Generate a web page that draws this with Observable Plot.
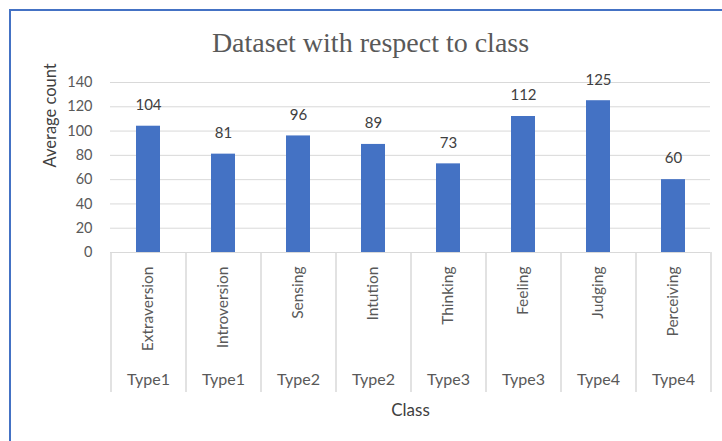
<!DOCTYPE html>
<html>
<head>
<meta charset="utf-8">
<script src="https://cdn.jsdelivr.net/npm/d3@7"></script>
<script src="https://cdn.jsdelivr.net/npm/@observablehq/plot@0.6"></script>
<style>
  html, body { margin: 0; padding: 0; background: #fff; }
  #wrap { position: relative; width: 722px; height: 441px; overflow: hidden; }
  #frame { position: absolute; left: 9px; top: 9px; width: 800px; height: 500px;
           border-left: 2px solid #4472c4; border-top: 2px solid #4472c4; pointer-events: none; }
  svg { display: block; }
</style>
</head>
<body>
<div id="wrap"><div id="chart"></div><div id="frame"></div></div>
<script>
const classes = ["Extraversion", "Introversion", "Sensing", "Intution", "Thinking", "Feeling", "Judging", "Perceiving"];
const types = ["Type1", "Type1", "Type2", "Type2", "Type3", "Type3", "Type4", "Type4"];
const counts = [104, 81, 96, 89, 73, 112, 125, 60];
const yTicks = [0, 20, 40, 60, 80, 100, 120, 140];

const rows = classes.map((c, i) => ({cls: c, type: types[i], count: counts[i]}));

const W = 722, H = 441, mL = 110, mR = 12, mT = 82, mB = 189;
const step = (W - mL - mR) / classes.length;
const font = "Lato, 'Open Sans', sans-serif";

const plot = Plot.plot({
  width: W, height: H,
  marginLeft: mL, marginRight: mR, marginTop: mT, marginBottom: mB,
  style: {fontFamily: font, background: "white", color: "#595959"},
  x: {domain: classes, paddingInner: 0.68, paddingOuter: 0.34, axis: null},
  y: {domain: [0, 140], axis: null},
  marks: [
    Plot.ruleY(yTicks, {y: d => d, stroke: "#d9d9d9", strokeWidth: 1}),
    Plot.ruleX(classes, {x: d => d, dx: -step / 2, stroke: "#d9d9d9", strokeWidth: 1.5, insetTop: 170, insetBottom: -140}),
    Plot.ruleX(classes.slice(-1), {x: d => d, dx: step / 2, stroke: "#d9d9d9", strokeWidth: 1.5, insetTop: 170, insetBottom: -140}),
    Plot.barY(rows, {x: "cls", y: "count", fill: "#4472c4"}),
    Plot.text(rows, {x: "cls", y: "count", text: d => String(d.count), dy: -21, fontSize: 15, fill: "#404040"}),
    Plot.text(yTicks, {y: d => d, text: d => String(d), frameAnchor: "left", dx: -18, textAnchor: "end", lineAnchor: "middle", fontSize: 14.5, fill: "#595959"}),
    Plot.text(classes, {x: d => d, text: d => d, rotate: -90, textAnchor: "end", lineAnchor: "middle", frameAnchor: "bottom", dy: 14, fontSize: 15.5, fill: "#595959"}),
    Plot.text(rows, {x: "cls", text: "type", frameAnchor: "bottom", lineAnchor: "middle", dy: 127, fontSize: 16, fill: "#595959"}),
    Plot.text(["Class"], {text: d => d, frameAnchor: "bottom", lineAnchor: "middle", dy: 158, fontSize: 17, fill: "#404040"}),
    Plot.text(["Average count"], {text: d => d, frameAnchor: "left", lineAnchor: "middle", dx: -60, rotate: -90, fontSize: 16.5, fill: "#404040"}),
    Plot.text(["Dataset with respect to class"], {text: d => d, frameAnchor: "top", lineAnchor: "middle", dx: -40, dy: -39, fontSize: 28, fill: "#595959", fontFamily: "'Liberation Serif', 'DejaVu Serif', serif"})
  ]
});
document.getElementById("chart").appendChild(plot);
</script>
</body>
</html>
